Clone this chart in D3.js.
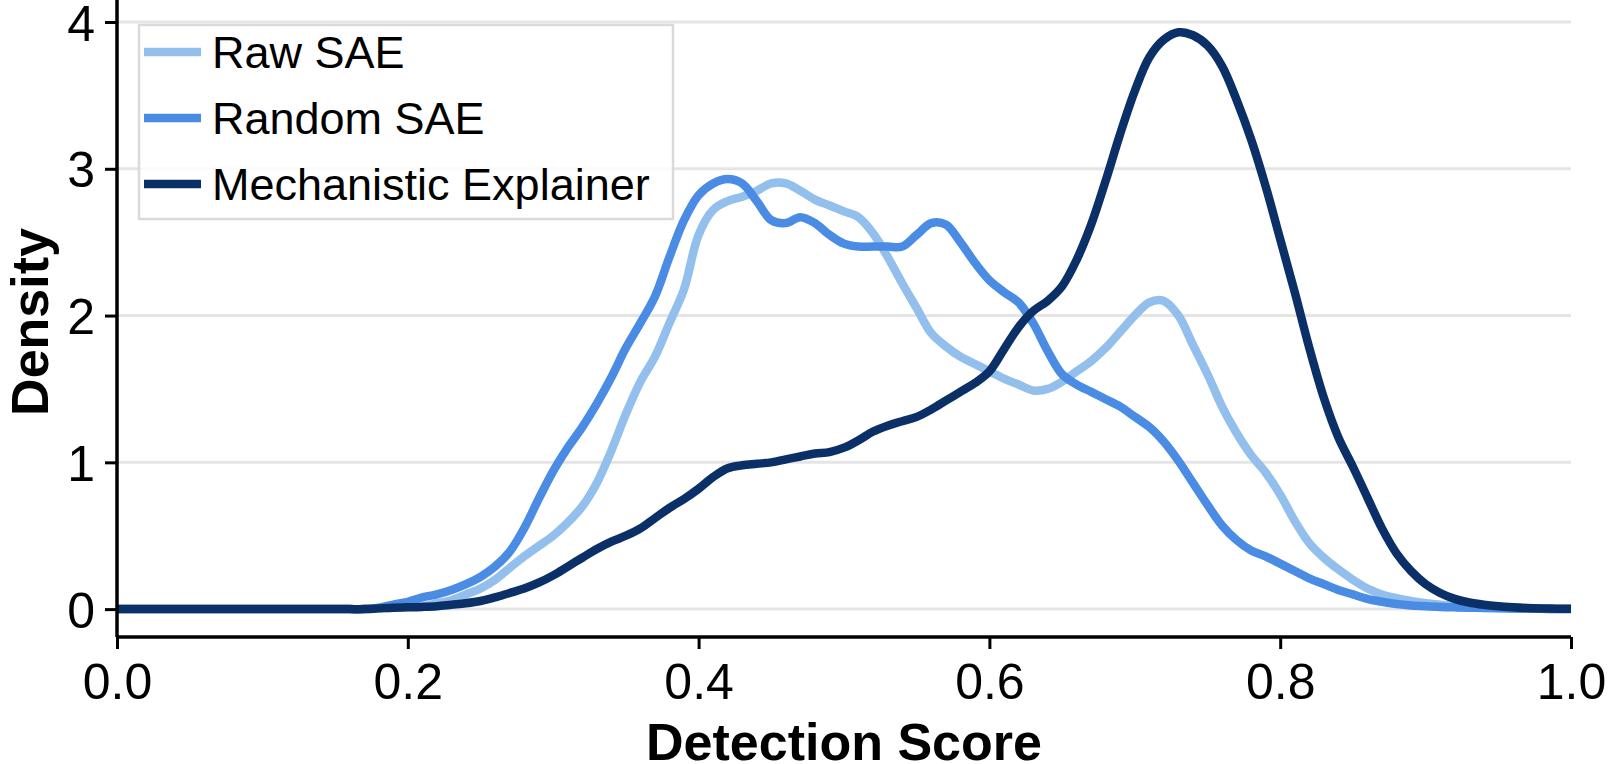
<!DOCTYPE html>
<head>
<meta charset="utf-8">
<title>Detection Score density</title>
<script src="https://d3js.org/d3.v7.min.js"></script>
<style>
  body { margin: 0; background: #fff; }
  text { font-family: "Liberation Sans", Arial, sans-serif; fill: #000; }
</style>
</head>
<body>
<script>
// sample grid for the density curves (detection score 0.00 .. 1.00)
var scores = d3.range(0, 101).map(function(i){ return i / 100; });

var seriesNames = ["Raw SAE", "Random SAE", "Mechanistic Explainer"];
var seriesColors = ["#93bfed", "#4a8be4", "#0b3068"];

// values, one per grid point
var rawSAE = [
  0,0,0,0,0,0,0,0,0,0,
  0,0,0,0,0,0,0,0,0.005,0.01,
  0.015,0.02,0.04,0.06,0.10,0.14,0.20,0.28,0.36,0.43,
  0.50,0.59,0.70,0.86,1.08,1.33,1.55,1.72,1.95,2.18,
  2.55,2.72,2.78,2.81,2.85,2.90,2.90,2.85,2.79,2.75,
  2.71,2.67,2.56,2.40,2.22,2.05,1.88,1.79,1.72,1.67,
  1.62,1.57,1.53,1.49,1.50,1.55,1.62,1.69,1.78,1.89,
  2.00,2.09,2.10,2.00,1.80,1.60,1.38,1.20,1.05,0.93,
  0.78,0.60,0.45,0.35,0.27,0.20,0.14,0.10,0.075,0.055,
  0.04,0.03,0.022,0.015,0.01,0.007,0.005,0.003,0.002,0.001,
  0
];
var randomSAE = [
  0,0,0,0,0,0,0,0,0,0,
  0,0,0,0,0,0,0,0,0.01,0.03,
  0.05,0.08,0.10,0.13,0.17,0.22,0.29,0.39,0.55,0.75,
  0.94,1.10,1.24,1.40,1.58,1.78,1.95,2.13,2.40,2.65,
  2.82,2.90,2.93,2.90,2.78,2.65,2.63,2.67,2.63,2.55,
  2.49,2.47,2.47,2.47,2.47,2.55,2.63,2.62,2.50,2.36,
  2.24,2.16,2.09,1.95,1.76,1.60,1.53,1.48,1.43,1.38,
  1.31,1.24,1.14,1.01,0.86,0.71,0.57,0.47,0.40,0.36,
  0.31,0.26,0.21,0.17,0.13,0.10,0.07,0.05,0.035,0.025,
  0.02,0.015,0.012,0.01,0.008,0.006,0.004,0.003,0.002,0.001,
  0
];
var mechExplainer = [
  0,0,0,0,0,0,0,0,0,0,
  0,0,0,0,0,0,0,0,0.005,0.01,
  0.012,0.015,0.02,0.03,0.04,0.055,0.08,0.11,0.14,0.18,
  0.23,0.29,0.35,0.41,0.46,0.50,0.55,0.62,0.69,0.75,
  0.82,0.90,0.96,0.98,0.99,1.00,1.02,1.04,1.06,1.07,
  1.10,1.15,1.21,1.25,1.28,1.31,1.36,1.42,1.48,1.54,
  1.62,1.77,1.92,2.03,2.10,2.20,2.38,2.62,2.92,3.24,
  3.53,3.76,3.88,3.93,3.91,3.84,3.70,3.47,3.20,2.88,
  2.52,2.16,1.78,1.44,1.17,0.97,0.76,0.55,0.38,0.26,
  0.17,0.11,0.07,0.045,0.03,0.02,0.013,0.008,0.005,0.003,
  0.002
];

var xTicks = [0, 0.2, 0.4, 0.6, 0.8, 1.0];
var yTicks = [0, 1, 2, 3, 4];

var width = 1610, height = 764;
var svg = d3.select("body").append("svg")
  .attr("width", width)
  .attr("height", height);

// plot area
var x = d3.scaleLinear().domain([0, 1]).range([117, 1571]);
var y = d3.scaleLinear().domain([-0.19, 4.15]).range([637, 0]);

// horizontal gridlines
svg.append("g").selectAll("line").data(yTicks).enter().append("line")
  .attr("x1", x(0)).attr("x2", x(1))
  .attr("y1", function(d){ return y(d); })
  .attr("y2", function(d){ return y(d); })
  .attr("stroke", "#e5e5e5")
  .attr("stroke-width", 3);

// density lines
var line = d3.line()
  .x(function(d){ return x(d[0]); })
  .y(function(d){ return y(d[1]); })
  .curve(d3.curveCatmullRom.alpha(0.5));

var allSeries = [rawSAE, randomSAE, mechExplainer];
allSeries.forEach(function(vals, i){
  svg.append("path")
    .datum(scores.map(function(s, j){ return [s, vals[j]]; }))
    .attr("d", line)
    .attr("fill", "none")
    .attr("stroke", seriesColors[i])
    .attr("stroke-width", 8.5)
    .attr("stroke-linejoin", "round");
});

// axes
var xAxis = svg.append("g")
  .attr("transform", "translate(0," + y.range()[0] + ")")
  .call(d3.axisBottom(x).tickValues(xTicks).tickSize(12).tickPadding(14)
    .tickFormat(d3.format(".1f")));
var yAxis = svg.append("g")
  .attr("transform", "translate(" + x.range()[0] + ",0)")
  .call(d3.axisLeft(y).tickValues(yTicks).tickSize(12).tickPadding(10)
    .tickFormat(d3.format("d")));

[xAxis, yAxis].forEach(function(ax){
  ax.select(".domain").attr("stroke", "#000").attr("stroke-width", 3.5);
  ax.selectAll(".tick line").attr("stroke", "#000").attr("stroke-width", 3);
  ax.selectAll(".tick text")
    .attr("font-family", "Liberation Sans, Arial, sans-serif")
    .attr("font-size", 50)
    .attr("fill", "#000");
});
// domain path from d3 has outer ticks; redraw as plain lines
xAxis.select(".domain").attr("d", "M" + x(0) + ",0H" + x(1));
yAxis.select(".domain").attr("d", "M0," + y.range()[0] + "V0");
yAxis.selectAll(".tick text").attr("dy", "0.36em");

// axis titles
svg.append("text")
  .attr("x", (x(0) + x(1)) / 2)
  .attr("y", 760)
  .attr("text-anchor", "middle")
  .attr("font-size", 52)
  .attr("font-weight", "bold")
  .text("Detection Score");

svg.append("text")
  .attr("transform", "translate(48," + 322 + ") rotate(-90)")
  .attr("text-anchor", "middle")
  .attr("font-size", 52)
  .attr("font-weight", "bold")
  .text("Density");

// legend
var legend = svg.append("g").attr("transform", "translate(139,25)");
legend.append("rect")
  .attr("width", 534)
  .attr("height", 194)
  .attr("fill", "#fff")
  .attr("fill-opacity", 0.85)
  .attr("stroke", "#dadada")
  .attr("stroke-width", 2.5);

var items = legend.selectAll(".legends").data(seriesNames).enter().append("g")
  .classed("legends", true)
  .attr("transform", function(d, i){ return "translate(0," + (27 + i * 66) + ")"; });
items.append("line")
  .attr("x1", 5).attr("x2", 62)
  .attr("stroke", function(d, i){ return seriesColors[i]; })
  .attr("stroke-width", 8.5);
items.append("text")
  .attr("x", 73)
  .attr("y", 16)
  .attr("font-size", 45)
  .text(function(d){ return d; });
</script>
</body>
